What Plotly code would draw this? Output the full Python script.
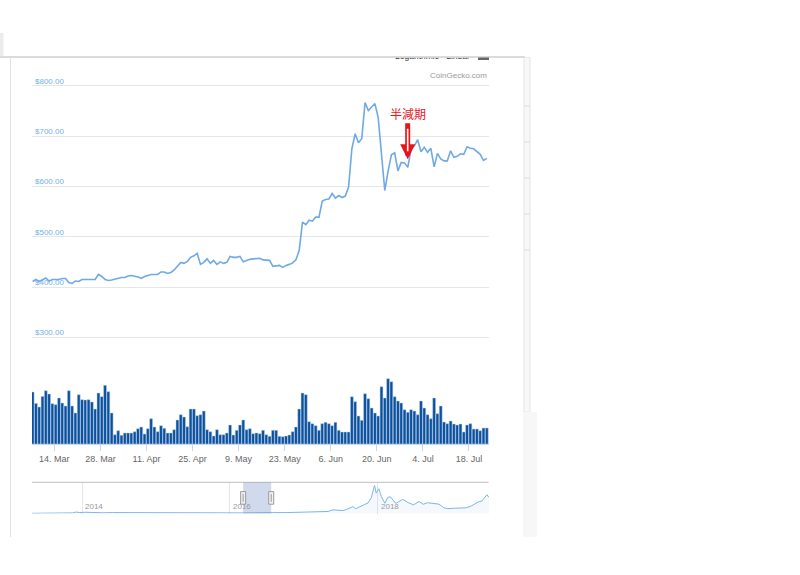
import pandas as pd
import plotly.graph_objects as go

# ---------------- data ----------------
start_date = "2016-03-07 10:00"
price_usd = [
    411, 415, 411, 415, 418, 412, 415, 415, 415, 417,
    417, 409, 407, 412, 411, 415, 415, 414, 415, 415,
    425, 421, 415, 413, 414, 416, 418, 419, 419, 422,
    423, 422, 420, 417, 421, 423, 425, 425, 425, 430,
    430, 427, 429, 434, 441, 449, 447, 451, 459, 462,
    467, 445, 449, 456, 447, 453, 445, 450, 447, 449,
    461, 459, 459, 461, 450, 453, 455, 456, 456, 457,
    454, 453, 453, 441, 442, 443, 439, 443, 445, 448,
    454, 473, 529, 524, 533, 531, 539, 539, 571, 574,
    575, 586, 577, 582, 578, 581, 599, 675, 705, 687,
    695, 767, 751, 758, 765, 737, 665, 592, 630, 663,
    667, 631, 648, 647, 638, 675, 681, 693, 669, 678,
    668, 676, 639, 666, 655, 651, 651, 671, 658, 660,
    665, 664, 679, 676, 675, 670, 664, 652, 656,
]
volume_musd = [
    520, 406, 370, 476, 533, 500, 403, 393, 460, 410,
    380, 533, 380, 310, 493, 443, 440, 443, 420, 350,
    510, 473, 587, 523, 310, 93, 133, 87, 110, 110,
    110, 123, 153, 170, 100, 153, 253, 170, 123, 183,
    157, 110, 110, 143, 240, 293, 270, 173, 350, 350,
    283, 293, 330, 143, 123, 80, 143, 93, 93, 110,
    190, 90, 137, 190, 240, 143, 153, 103, 110, 103,
    137, 93, 77, 137, 137, 77, 73, 80, 90, 123,
    170, 350, 510, 493, 223, 203, 183, 137, 203, 217,
    203, 183, 217, 137, 120, 120, 120, 473, 423, 280,
    237, 503, 453, 360, 310, 280, 573, 460, 653, 623,
    473, 430, 410, 343, 317, 343, 330, 293, 430, 360,
    293, 253, 460, 303, 380, 220, 203, 230, 200, 190,
    200, 120, 190, 203, 150, 150, 133, 160, 160,
]
tick_dates = ["2016-03-14", "2016-03-28", "2016-04-11", "2016-04-25", "2016-05-09",
              "2016-05-23", "2016-06-06", "2016-06-20", "2016-07-04", "2016-07-18"]
tick_labels = ["14. Mar", "28. Mar", "11. Apr", "25. Apr", "9. May",
               "23. May", "6. Jun", "20. Jun", "4. Jul", "18. Jul"]
price_ticks = [300, 400, 500, 600, 700, 800]
price_tick_labels = ["$300.00", "$400.00", "$500.00", "$600.00", "$700.00", "$800.00"]

# navigator (full history) series
nav_dates = [
    "2013-04-28", "2013-06-01", "2013-08-01", "2013-10-01", "2013-11-15", "2013-12-01",
    "2013-12-20", "2014-01-15", "2014-02-15", "2014-03-15", "2014-04-15", "2014-06-01",
    "2014-08-01", "2014-10-01", "2014-12-01", "2015-01-15", "2015-03-01", "2015-06-01",
    "2015-08-01", "2015-10-01", "2015-11-05", "2015-12-15", "2016-02-01", "2016-03-07",
    "2016-05-01", "2016-06-17", "2016-08-01", "2016-10-01", "2016-12-01", "2017-01-05",
    "2017-02-01", "2017-03-01", "2017-04-01", "2017-05-01", "2017-05-25", "2017-06-15",
    "2017-07-15", "2017-08-01", "2017-09-01", "2017-09-15", "2017-10-01", "2017-11-01",
    "2017-11-15", "2017-12-01", "2017-12-17", "2017-12-25", "2018-01-07", "2018-01-20",
    "2018-02-06", "2018-02-20", "2018-03-05", "2018-04-01", "2018-05-05", "2018-06-01",
    "2018-06-28", "2018-07-25", "2018-08-15", "2018-09-05", "2018-10-15", "2018-11-01",
    "2018-11-25", "2018-12-15", "2019-01-15", "2019-02-15", "2019-03-15", "2019-04-10",
    "2019-05-15", "2019-06-01", "2019-06-26", "2019-07-06",
]
nav_price = [
    135, 120, 100, 125, 420, 1000,
    650, 850, 620, 630, 500, 630,
    590, 380, 370, 210, 260, 225,
    280, 240, 400, 450, 370, 411,
    450, 760, 620, 610, 750, 1000,
    980, 1200, 1100, 1400, 2500, 2500,
    2000, 2800, 4700, 3300, 4400, 6700,
    7300, 10800, 19300, 14000, 17000, 11500,
    7000, 11000, 11500, 6900, 9700, 7500,
    5900, 8200, 6300, 7400, 6500, 6400,
    3900, 3300, 3600, 3600, 3900, 5200,
    8000, 8600, 12900, 11000,
]
nav_tick_dates = ["2014-01-01", "2016-01-01", "2018-01-01"]
nav_tick_labels = ["2014", "2016", "2018"]

halving_label = "半減期"
halving_date = "2016-06-29 09:00"
halving_price = 654

dates = pd.date_range(start_date, periods=len(price_usd), freq="D")

# ---------------- geometry helpers ----------------
W, H = 800, 575
def px(x):
    return x / W
def py(y):
    return 1 - y / H

main_x = [px(32), px(489)]
main_y = [py(444), py(80)]
nav_y = [py(513.5), py(482.3)]

fig = go.Figure()

fig.add_trace(go.Bar(
    x=dates, y=volume_musd, xaxis="x", yaxis="y2",
    marker=dict(color="#0d509c", line=dict(color="#b9d2ee", width=0.5)),
    hoverinfo="skip", showlegend=False,
))
fig.add_trace(go.Scatter(
    x=dates, y=price_usd, xaxis="x", yaxis="y", mode="lines",
    line=dict(color="#6fa9e6", width=1.6), hoverinfo="skip", showlegend=False,
))
fig.add_trace(go.Scatter(
    x=nav_dates, y=nav_price, xaxis="x2", yaxis="y3", mode="lines",
    line=dict(color="#7cb5ec", width=1), fill="tozeroy",
    fillcolor="rgba(124,181,236,0.08)", hoverinfo="skip", showlegend=False,
))
# clipped range-selector texts at the top (partly hidden by the container edge)
fig.add_trace(go.Scatter(
    x=[417, 458], y=[57.2, 57.2], xaxis="x3", yaxis="y4", mode="text",
    text=["Logarithmic", "Linear"], textposition="middle center",
    textfont=dict(family="Liberation Sans", size=8.5, color="#333333"),
    cliponaxis=True, hoverinfo="skip", showlegend=False,
))

range_start = "2016-03-07 05:20"
range_end = "2016-07-24 02:00"

fig.update_layout(
    width=W, height=H, autosize=False,
    margin=dict(l=0, r=0, t=0, b=0),
    paper_bgcolor="white", plot_bgcolor="white",
    hovermode=False, bargap=0.12,
    font=dict(family="Liberation Sans", color="#666666"),
    xaxis=dict(
        domain=main_x, anchor="y", type="date", range=[range_start, range_end],
        tickvals=tick_dates, ticktext=tick_labels, showgrid=False, zeroline=False,
        showline=True, linecolor="#ccd6eb", linewidth=1,
        ticks="outside", ticklen=6, tickcolor="#ccd6eb",
        tickfont=dict(size=9, color="#666666"),
    ),
    yaxis=dict(
        domain=main_y, anchor="x", range=[87.6, 811.9],
        tickvals=price_ticks, showticklabels=False, ticks="", showline=False,
        showgrid=True, gridcolor="#e6e6e6", gridwidth=1, zeroline=False,
    ),
    yaxis2=dict(
        domain=main_y, overlaying="y", anchor="x", range=[0, 3640],
        visible=False, showgrid=False,
    ),
    xaxis2=dict(
        domain=main_x, anchor="y3", type="date", range=["2013-04-28", "2019-07-06"],
        tickvals=nav_tick_dates, showticklabels=False, ticks="", showline=False,
        showgrid=True, gridcolor="#e6e6e6", zeroline=False,
    ),
    yaxis3=dict(domain=nav_y, anchor="x2", range=[0, 21400], visible=False),
    xaxis3=dict(domain=[px(380), px(500)], anchor="y4", range=[380, 500], visible=False),
    yaxis4=dict(domain=[py(75), py(57.5)], anchor="x3", range=[75, 57.5], visible=False),
)

shapes = []
# page / container edges
shapes.append(dict(type="rect", xref="paper", yref="paper", x0=px(0), x1=px(3.5),
                   y0=py(56), y1=py(33), fillcolor="#ececec", line=dict(width=0)))
shapes.append(dict(type="line", xref="paper", yref="paper", x0=px(0), x1=px(525),
                   y0=py(57), y1=py(57), line=dict(color="#cfcfcf", width=1.5)))
shapes.append(dict(type="line", xref="paper", yref="paper", x0=px(10.5), x1=px(10.5),
                   y0=py(57), y1=py(537), line=dict(color="#e3e3e3", width=1)))
shapes.append(dict(type="rect", xref="paper", yref="paper", x0=px(524), x1=px(530),
                   y0=py(412), y1=py(57.5), fillcolor="#f8f8f8",
                   line=dict(color="#e6e6e6", width=1)))
for ty in [106, 142, 178, 214, 250]:
    shapes.append(dict(type="line", xref="paper", yref="paper", x0=px(524), x1=px(530),
                       y0=py(ty), y1=py(ty), line=dict(color="#dcdcdc", width=1)))
shapes.append(dict(type="rect", xref="paper", yref="paper", x0=px(523), x1=px(537),
                   y0=py(537), y1=py(412), fillcolor="#f7f7f7", line=dict(width=0)))
# menu icon (bottom bar visible)
shapes.append(dict(type="rect", xref="paper", yref="paper", x0=px(478), x1=px(489),
                   y0=py(60), y1=py(57.5), fillcolor="#666666", line=dict(width=0)))
# navigator outline & selection mask
shapes.append(dict(type="line", xref="paper", yref="paper", x0=main_x[0], x1=px(488.5),
                   y0=nav_y[1], y1=nav_y[1], line=dict(color="#cccccc", width=1.2)))
shapes.append(dict(type="rect", xref="x2", yref="paper", x0=range_start, x1=range_end,
                   y0=nav_y[0], y1=nav_y[1], fillcolor="rgba(102,133,194,0.3)",
                   line=dict(width=0), layer="above"))
nav_mid = (nav_y[0] + nav_y[1]) / 2
for hx in [range_start, range_end]:
    shapes.append(dict(type="rect", xref="x2", yref="paper", xsizemode="pixel",
                       ysizemode="pixel", xanchor=hx, yanchor=nav_mid,
                       x0=-2.5, x1=2.5, y0=-6.3, y1=6.3, fillcolor="#f2f2f2",
                       line=dict(color="#999999", width=1), layer="above"))
    shapes.append(dict(type="line", xref="x2", yref="paper", xsizemode="pixel",
                       ysizemode="pixel", xanchor=hx, yanchor=nav_mid,
                       x0=0, x1=0, y0=-4, y1=4,
                       line=dict(color="#999999", width=1), layer="above"))
fig.update_layout(shapes=shapes)

annotations = [
    dict(text="CoinGecko.com", xref="paper", yref="paper", x=px(489.5), y=py(75),
         xanchor="right", yanchor="middle", showarrow=False,
         font=dict(family="Liberation Sans", size=8, color="#999999")),
    dict(text=halving_label, xref="x", yref="y", x=halving_date, y=halving_price,
         showarrow=True, ax=0, ay=-46, arrowhead=2, arrowsize=0.6, arrowwidth=5,
         arrowcolor="#e8141c", standoff=0,
         font=dict(family="Noto Sans CJK JP", size=12, color="#e8141c")),
    dict(text="", xref="x", yref="y", x=halving_date, y=halving_price,
         showarrow=True, ax=0, ay=-32, arrowhead=0, arrowwidth=1.6,
         arrowcolor="white", standoff=8),
]
# price axis labels (above the grid lines, inside the plot)
for val, lab in zip(price_ticks, price_tick_labels):
    annotations.append(dict(
        text=lab, xref="paper", yref="y", x=px(32.5), y=val,
        xanchor="left", yanchor="bottom", yshift=-2, showarrow=False,
        font=dict(family="Liberation Sans", size=8, color="#72b1ea"),
    ))
# navigator year labels
for d, lab in zip(nav_tick_dates, nav_tick_labels):
    annotations.append(dict(
        text=lab, xref="x2", yref="paper", x=d, y=py(513),
        xanchor="left", yanchor="bottom", xshift=1, showarrow=False,
        font=dict(family="Liberation Sans", size=8, color="#999999"),
    ))
fig.update_layout(annotations=annotations)

fig.write_html("out.html")
